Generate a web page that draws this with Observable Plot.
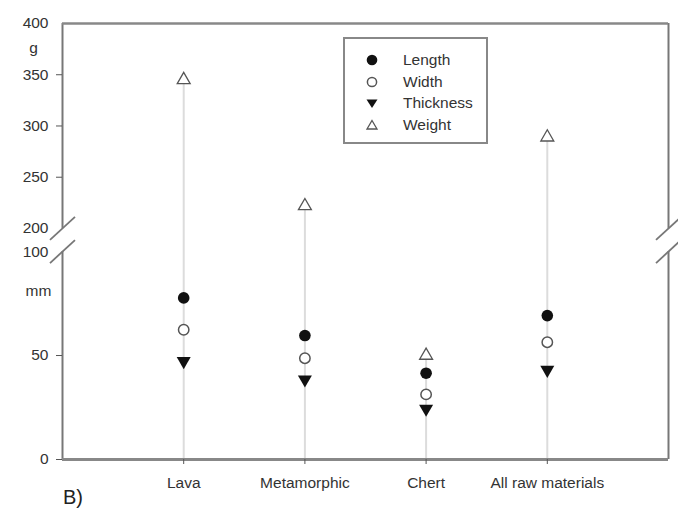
<!DOCTYPE html>
<html><head><meta charset="utf-8">
<script src="https://cdn.jsdelivr.net/npm/d3@7"></script>
<script src="https://cdn.jsdelivr.net/npm/@observablehq/plot@0.6"></script>
<style>
body{margin:0;background:#fff;font-family:"Liberation Sans",Arial,sans-serif;}
#wrap{position:relative;width:678px;height:508px;overflow:hidden;background:#fff;}
#legend{position:absolute;left:343px;top:37px;width:145px;height:107px;border:2px solid #888;box-sizing:border-box;background:#fff;}
.row{position:absolute;left:0;height:20px;display:flex;align-items:center;font-size:15.5px;color:#333;}
.row svg{position:absolute;left:20px;top:3px;}
.row span{position:absolute;left:58px;white-space:nowrap;}
#tag{position:absolute;left:63px;top:487px;font-size:20px;line-height:20px;color:#222;}
</style></head>
<body><div id="wrap"></div>
<script>
// ---- data ----
const categories = ["Lava", "Metamorphic", "Chert", "All raw materials"];
const lengthMm = [77.7, 59.6, 41.5, 69.2];
const widthMm = [62.4, 48.7, 31.3, 56.4];
const thicknessMm = [47.3, 38.5, 24.4, 43.1];
const weightG = [345, 222, 50, 289];
const lowerTicks = [0, 50, 100];
const upperTicks = [200, 250, 300, 350, 400];
const seriesNames = ["Length", "Width", "Thickness", "Weight"];

// ---- broken axis mapping (lower 0–100, upper 200–400) ----
const lowTop = 100, upBottom = 200, upTop = 400;
const gap = 11.1;          // gap between segments, in lower-axis units
const upRatio = 0.4928;    // upper unit per lower unit
const v = val => val <= lowTop ? val : lowTop + gap + (val - upBottom) * upRatio;
const yMax = v(upTop);
const xMax = categories.length + 1;

const rows = categories.map((c, i) => ({
  i: i + 1, cat: c,
  len: lengthMm[i], wid: widthMm[i], thk: thicknessMm[i], wt: weightG[i],
  top: Math.max(lengthMm[i], widthMm[i], thicknessMm[i], weightG[i])
}));

const W = 678, H = 508, mL = 62, mR = 10, mT = 23, mB = 49;
const pxX = (W - mL - mR) / xMax, pxY = (H - mT - mB) / yMax;
const bdx = 12.5 / pxX, bdy = 11.5 / pxY;
const breaks = [];
for (const x of [0, xMax]) for (const y of [v(upBottom), v(lowTop)])
  breaks.push({x1: x - bdx, y1: y - bdy, x2: x + bdx, y2: y + bdy});

const frameSegs = [
  {x: 0, y1: 0, y2: v(lowTop)}, {x: 0, y1: v(upBottom), y2: yMax},
  {x: xMax, y1: 0, y2: v(lowTop)}, {x: xMax, y1: v(upBottom), y2: yMax}
];
const tickVals = [...lowerTicks, ...upperTicks];
const tickedVals = tickVals.filter(t => t !== 100 && t !== 200 && t !== 400);
const inv = t => t <= lowTop + gap / 2 ? t : upBottom + (t - lowTop - gap) / upRatio;

const plot = Plot.plot({
  width: W, height: H, marginLeft: mL, marginRight: mR, marginTop: mT, marginBottom: mB,
  style: {fontFamily: '"Liberation Sans", Arial, sans-serif', fontSize: "15.5px", color: "#333", background: "#fff"},
  x: {domain: [0, xMax], label: null},
  y: {domain: [0, yMax], label: null},
  marks: [
    Plot.ruleX(rows, {x: "i", y1: 0, y2: d => v(d.top), stroke: "#dcdcdc", strokeWidth: 2}),
    Plot.ruleX(frameSegs, {x: "x", y1: "y1", y2: "y2", stroke: "#777", strokeWidth: 2}),
    Plot.ruleY([yMax], {stroke: "#888", strokeWidth: 2.5}),
    Plot.ruleY([0], {stroke: "#888", strokeWidth: 3}),
    Plot.link(breaks, {x1: "x1", y1: "y1", x2: "x2", y2: "y2", stroke: "#777", strokeWidth: 1.8}),
    Plot.axisY(tickedVals.map(v), {tickSize: 6, tickPadding: 8, tickFormat: t => Math.round(inv(t)), stroke: "#555"}),
    Plot.axisY([v(100), v(200), v(400)], {tickSize: 0, tickPadding: 14, tickFormat: t => Math.round(inv(t))}),
    Plot.axisX(rows.map(d => d.i), {tickSize: 5, tickPadding: 12, tickFormat: t => categories[t - 1], stroke: "#555"}),
    Plot.text([{t: "g", y: v(376)}], {x: () => 0, y: "y", text: "t", dx: -29, fill: "#333"}),
    Plot.text([{t: "mm", y: 81}], {x: () => 0, y: "y", text: "t", dx: -24, fill: "#333"}),
    Plot.dot(rows, {x: "i", y: d => v(d.wt), symbol: "triangle", r: 4.8, stroke: "#555", strokeWidth: 1.3, fill: "#fff"}),
    Plot.dot(rows, {x: "i", y: d => v(d.len), symbol: "circle", r: 5.8, fill: "#111", stroke: "none"}),
    Plot.dot(rows, {x: "i", y: d => v(d.wid), symbol: "circle", r: 5.2, stroke: "#555", strokeWidth: 1.5, fill: "#fff"}),
    Plot.dot(rows, {x: "i", y: d => v(d.thk), symbol: "triangle", rotate: 180, r: 5.2, fill: "#111", stroke: "none"})
  ]
});
const wrap = document.getElementById("wrap");
wrap.appendChild(plot);

// legend
const icons = [
  '<circle cx="7" cy="7" r="5.3" fill="#111"/>',
  '<circle cx="7" cy="7" r="4.6" fill="#fff" stroke="#555" stroke-width="1.5"/>',
  '<path d="M1.5,3.5 L12.5,3.5 L7,12 Z" fill="#111"/>',
  '<path d="M7,2.5 L12,11 L2,11 Z" fill="#fff" stroke="#555" stroke-width="1.3"/>'
];
const leg = document.createElement("div");
leg.id = "legend";
seriesNames.forEach((n, k) => {
  const r = document.createElement("div");
  r.className = "row";
  r.style.top = (11 + k * 21.5) + "px";
  r.innerHTML = `<svg width="14" height="14">${icons[k]}</svg><span>${n}</span>`;
  leg.appendChild(r);
});
wrap.appendChild(leg);
const tag = document.createElement("div");
tag.id = "tag"; tag.textContent = "B)";
wrap.appendChild(tag);
</script>
</body></html>
